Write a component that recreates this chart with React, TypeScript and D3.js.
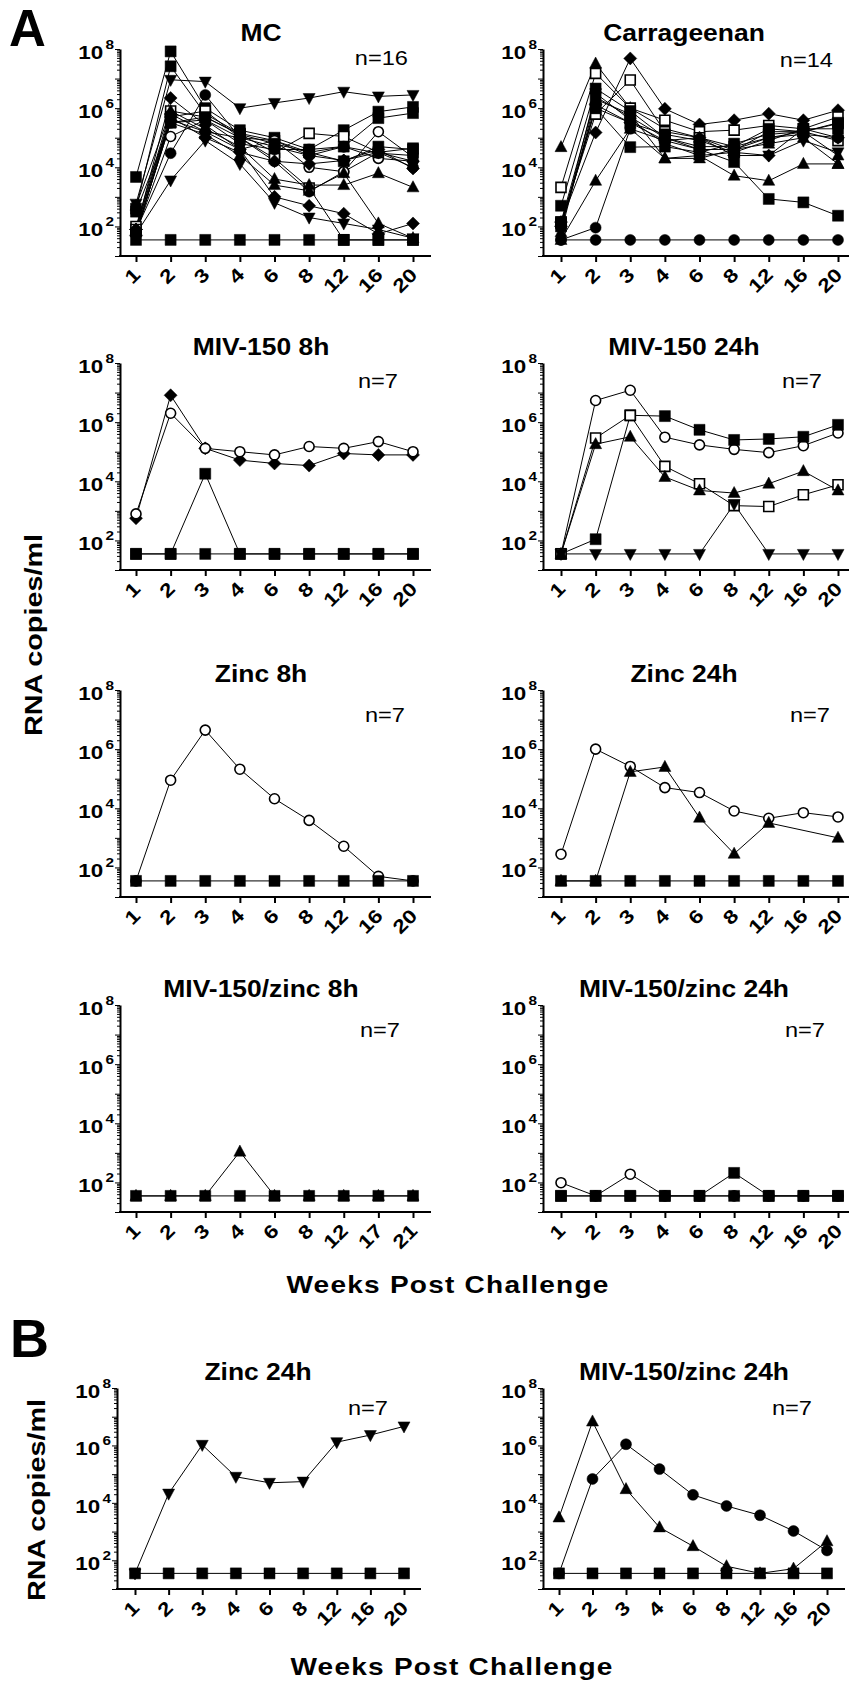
import React, { useRef, useEffect } from "react";
import * as d3 from "d3";

// Limit of detection (values plotted on the baseline)
const LOD = 35;

const weeks = ["1", "2", "3", "4", "6", "8", "12", "16", "20"];
const weeksLate = ["1", "2", "3", "4", "6", "8", "12", "17", "21"];

// MC (n=16)
const mcValues = [
  [590, 9.1e6, 7.9e6, 1e6, 1.5e6, 2.2e6, 3.6e6, 2.5e6, 2.8e6],
  [4700, 8.3e7, 1e6, 1.8e5, 1e5, 4e4, 1.8e5, 7.6e5, 1.1e6],
  [400, 2.6e7, 6.3e5, 1.4e5, 8e4, 3.2e4, 5e4, 4.6e5, 6.8e5],
  [72, 3e4, 2.8e6, 1e5, 1.6e4, 1500, 7100, 3.2e4, 1e4],
  [63, 1.1e5, 4e5, 1e5, 8e4, 1e4, 7100, 1.6e5, 2.2e4],
  [56, 4e5, 1.6e5, 4e4, 8e4, 2.5e4, 5e4, 2e4, 1.6e4],
  [100, 8e5, 5e5, 1.3e5, 3.2e4, 1.4e5, 1.1e5, 3.2e4, 4.4e4],
  [79, 5e5, 8e5, 1e5, 2e4, 2000, 35, 35, 35],
  [79, 2.2e6, 2.7e5, 4e4, 1000, 500, 270, 56, 126],
  [56, 3600, 8e4, 1.3e4, 630, 200, 126, 79, 40],
  [50, 5e5, 1e5, 3.2e4, 1.6e4, 1.3e4, 1.7e4, 4e4, 9100],
  [500, 8e5, 2e5, 5e4, 4000, 2500, 2500, 6300, 2100],
  [63, 3.2e5, 1.3e5, 2.5e4, 2500, 1600, 6300, 126, 40],
  [63, 3.2e5, 4e5, 6.3e4, 4e4, 4e4, 5e4, 3e4, 2.5e4],
  [316, 3.2e5, 5e5, 1.3e5, 6.3e4, 3.2e4, 1.6e4, 5e4, 4e4],
  [79, 6.3e5, 1.6e5, 1e5, 5e4, 2.5e4, 1.7e4, 3.2e4, 1.6e4],
  [LOD, LOD, LOD, LOD, LOD, LOD, LOD, LOD, LOD],
];
const mcMarkers = [
  "triDown", "square", "square", "circle", "openCircle", "openCircle", "openSquare", "openSquare",
  "diamond", "triDown", "diamond", "triangle", "triangle", "circle", "square", "diamond", "square",
];

// Carrageenan (n=14)
const carrValues = [
  [140, 2.4e6, 5e5, 1e5, 4e4, 1.5e4, 850, 650, 230],
  [140, 1.5e5, 4.8e7, 9.5e5, 2.8e5, 3.9e5, 6.5e5, 3.9e5, 8.5e5],
  [4.8e4, 3.2e7, 1e6, 2e5, 1e5, 5e4, 1e5, 1.6e5, 2.5e4],
  [2100, 1.5e7, 1e6, 3.9e5, 1.6e5, 1.8e5, 2.6e5, 2e5, 5e5],
  [140, 6.3e5, 8.9e6, 1.6e5, 1e5, 3.7e4, 1.6e5, 1.6e5, 8e4],
  [LOD, 3500, 2e5, 2e4, 2.5e4, 5200, 3500, 1.3e4, 1.3e4],
  [LOD, 91, 2e5, 8e4, 4e4, 4e4, 1e5, 1.3e5, 1e5],
  [500, 4.6e6, 8e5, 1e5, 5e4, 5e4, 2e5, 1.6e5, 3e5],
  [126, 1e6, 4.8e4, 5e4, 3.2e4, 6.3e4, 1.3e5, 1.6e5, 3.2e5],
  [79, 3.2e6, 4e5, 6.3e4, 2.5e4, 3.2e4, 2.5e4, 8e4, 3.2e4],
  [100, 1e6, 3.2e5, 1.3e5, 8e4, 3.2e4, 8e4, 2e5, 2e5],
  [63, 2e6, 6.3e5, 2e4, 2e4, 4e4, 6.3e4, 1e5, 1.3e4],
  [100, 1.3e6, 3.2e5, 8e4, 1e5, 2.5e4, 2.5e4, 2e5, 1e5],
  [LOD, LOD, LOD, LOD, LOD, LOD, LOD, LOD, LOD],
];
const carrMarkers = [
  "square", "diamond", "triangle", "openSquare", "openSquare", "triangle", "circle",
  "square", "square", "triDown", "square", "triangle", "diamond", "circle",
];

// MIV-150 8h
const miv8Values = [
  [560, 8.1e6, 1.3e5, 5.2e4, 4e4, 3.4e4, 8.7e4, 7.8e4, 7.8e4],
  [790, 2e6, 1.3e5, 1e5, 7.8e4, 1.5e5, 1.3e5, 2.2e5, 1e5],
  [LOD, LOD, 1.8e4, LOD, LOD, LOD, LOD, LOD, LOD],
  [LOD, LOD, LOD, LOD, LOD, LOD, LOD, LOD, LOD],
];
const miv8Markers = ["diamond", "openCircle", "square", "square"];

// MIV-150 24h
const miv24Values = [
  [LOD, 5.4e6, 1.2e7, 3.1e5, 1.7e5, 1.2e5, 9.3e4, 1.6e5, 4.3e5],
  [LOD, 110, 1.7e6, 1.6e6, 5.5e5, 2.5e5, 2.7e5, 3.2e5, 8.1e5],
  [LOD, 2.9e5, 1.7e6, 3.2e4, 8300, 1500, 1400, 3500, 7600],
  [LOD, 1.8e5, 3.2e5, 1.4e4, 4900, 4000, 8300, 2.2e4, 4900],
  [LOD, LOD, LOD, LOD, LOD, 1700, LOD, LOD, LOD],
];
const miv24Markers = ["openCircle", "square", "openSquare", "triangle", "triDown"];

// Zinc 8h
const zinc8Values = [
  [LOD, 8.9e4, 4.4e6, 2.1e5, 2.1e4, 3900, 520, 50, LOD],
  [LOD, LOD, LOD, LOD, LOD, LOD, LOD, LOD, LOD],
];
const zinc8Markers = ["openCircle", "square"];

// Zinc 24h
const zinc24Values = [
  [280, 1e6, 2.6e5, 5e4, 3.4e4, 8100, 4600, 7100, 5100],
  [LOD, LOD, 1.7e5, 2.5e5, 4800, 290, 3200, null, 1000],
  [LOD, LOD, LOD, LOD, LOD, LOD, LOD, LOD, LOD],
];
const zinc24Markers = ["openCircle", "triangle", "square"];

// MIV-150/zinc 8h
const mz8Values = [
  [LOD, LOD, LOD, 1100, LOD, LOD, LOD, LOD, LOD],
  [LOD, LOD, LOD, LOD, LOD, LOD, LOD, LOD, LOD],
];
const mz8Markers = ["triangle", "square"];

// MIV-150/zinc 24h
const mz24Values = [
  [98, LOD, 190, LOD, LOD, LOD, LOD, LOD, LOD],
  [LOD, LOD, LOD, LOD, LOD, 210, LOD, LOD, LOD],
  [LOD, LOD, LOD, LOD, LOD, LOD, LOD, LOD, LOD],
];
const mz24Markers = ["openCircle", "square", "square"];

// B: Zinc 24h
const bZincValues = [
  [LOD, 2.1e4, 1.05e6, 8.1e4, 5e4, 5.5e4, 1.3e6, 2.3e6, 4.6e6],
  [LOD, LOD, LOD, LOD, LOD, LOD, LOD, LOD, LOD],
];
const bZincMarkers = ["triDown", "square"];

// B: MIV-150/zinc 24h
const bMzValues = [
  [3100, 6.8e6, 3e4, 1400, 310, 62, LOD, 51, 460],
  [LOD, 6.8e4, 1.1e6, 1.5e5, 1.9e4, 7800, 3700, 1050, 220],
  [LOD, LOD, LOD, LOD, LOD, LOD, LOD, LOD, LOD],
];
const bMzMarkers = ["triangle", "circle", "square"];

const panels = [
  { title: "MC", n: "n=16", weeks, values: mcValues, markers: mcMarkers },
  { title: "Carrageenan", n: "n=14", weeks, values: carrValues, markers: carrMarkers },
  { title: "MIV-150 8h", n: "n=7", weeks, values: miv8Values, markers: miv8Markers },
  { title: "MIV-150 24h", n: "n=7", weeks, values: miv24Values, markers: miv24Markers },
  { title: "Zinc 8h", n: "n=7", weeks, values: zinc8Values, markers: zinc8Markers },
  { title: "Zinc 24h", n: "n=7", weeks, values: zinc24Values, markers: zinc24Markers },
  { title: "MIV-150/zinc 8h", n: "n=7", weeks: weeksLate, values: mz8Values, markers: mz8Markers },
  { title: "MIV-150/zinc 24h", n: "n=7", weeks, values: mz24Values, markers: mz24Markers },
  { title: "Zinc 24h", n: "n=7", weeks, values: bZincValues, markers: bZincMarkers },
  { title: "MIV-150/zinc 24h", n: "n=7", weeks, values: bMzValues, markers: bMzMarkers },
];

// Panel frames (pixel layout)
const layout = [
  { ax: 120, top: 49, bottom: 256, x0: 136, x1: 413, xEnd: 431, nx: 408, ny: 65 },
  { ax: 543, top: 49, bottom: 256, x0: 561, x1: 838, xEnd: 849, nx: 833, ny: 67 },
  { ax: 120, top: 363, bottom: 570, x0: 136, x1: 413, xEnd: 431, nx: 398, ny: 388 },
  { ax: 543, top: 363, bottom: 570, x0: 561, x1: 838, xEnd: 849, nx: 822, ny: 388 },
  { ax: 120, top: 690, bottom: 897, x0: 136, x1: 413, xEnd: 431, nx: 405, ny: 722 },
  { ax: 543, top: 690, bottom: 897, x0: 561, x1: 838, xEnd: 849, nx: 830, ny: 722 },
  { ax: 120, top: 1005, bottom: 1212, x0: 136, x1: 413, xEnd: 431, nx: 400, ny: 1037 },
  { ax: 543, top: 1005, bottom: 1212, x0: 561, x1: 838, xEnd: 849, nx: 825, ny: 1037 },
  { ax: 117, top: 1388, bottom: 1589, x0: 135, x1: 404, xEnd: 421, nx: 388, ny: 1415 },
  { ax: 543, top: 1388, bottom: 1589, x0: 559, x1: 827, xEnd: 845, nx: 812, ny: 1415 },
];

const FONT = "'Liberation Sans', Arial, Helvetica, sans-serif";

// Símbolos propios (size = semiancho en px)
const sym = {
  square: { draw: (c, r) => c.rect(-r, -r, 2 * r, 2 * r) },
  circle: {
    draw: (c, r) => {
      c.moveTo(r, 0);
      c.arc(0, 0, r, 0, 2 * Math.PI);
    },
  },
  triangle: {
    draw: (c, r) => {
      c.moveTo(0, -r * 1.1);
      c.lineTo(r, r * 0.75);
      c.lineTo(-r, r * 0.75);
      c.closePath();
    },
  },
  triDown: {
    draw: (c, r) => {
      c.moveTo(0, r * 1.1);
      c.lineTo(r, -r * 0.75);
      c.lineTo(-r, -r * 0.75);
      c.closePath();
    },
  },
  diamond: {
    draw: (c, r) => {
      c.moveTo(0, -r);
      c.lineTo(r, 0);
      c.lineTo(0, r);
      c.lineTo(-r, 0);
      c.closePath();
    },
  },
};

const markerDefs = {
  square: { type: sym.square, r: 5.5, open: false },
  openSquare: { type: sym.square, r: 5, open: true },
  circle: { type: sym.circle, r: 5.5, open: false },
  openCircle: { type: sym.circle, r: 5, open: true },
  triangle: { type: sym.triangle, r: 6, open: false },
  triDown: { type: sym.triDown, r: 6, open: false },
  diamond: { type: sym.diamond, r: 6.5, open: false },
};

const isPow10 = (d) => Math.abs(Math.log10(d) - Math.round(Math.log10(d))) < 1e-9;

const addText = (g, o) =>
  g
    .append("text")
    .attr(
      "transform",
      `translate(${o.x},${o.y})${o.rotate ? ` rotate(${o.rotate})` : ""} scale(${o.sx || 1},1)`
    )
    .attr("text-anchor", o.anchor || "start")
    .attr("font-size", o.size)
    .attr("font-weight", o.weight || "normal")
    .attr("letter-spacing", o.spacing || 0)
    .attr("fill", "#000")
    .text(o.text);

const drawPanel = (svg, p, L) => {
  const g = svg.append("g");
  const x = d3.scalePoint().domain(p.weeks).range([L.x0, L.x1]);
  const y = d3.scaleLog().domain([10, 1e8]).range([L.bottom, L.top]);

  // Eje Y con marcas menores logarítmicas
  const tickVals = [];
  for (let e = 1; e < 8; e++) for (let m = 1; m < 10; m++) tickVals.push(m * 10 ** e);
  tickVals.push(1e8);
  const yAxis = g
    .append("g")
    .attr("transform", `translate(${L.ax},0)`)
    .call(d3.axisLeft(y).tickValues(tickVals).tickSize(3).tickSizeOuter(0).tickFormat(() => ""));
  yAxis.select(".domain").attr("stroke", "#000").attr("stroke-width", 2);
  yAxis
    .selectAll(".tick line")
    .attr("stroke", "#000")
    .attr("stroke-width", 1)
    .attr("x2", (d) => (isPow10(d) ? -5 : -3));

  // Rótulos 10^n
  [1e2, 1e4, 1e6, 1e8].forEach((v) => {
    const t = g
      .append("text")
      .attr("transform", `translate(${L.ax - 6},${y(v) + 10}) scale(1.18,1)`)
      .attr("text-anchor", "end")
      .attr("font-weight", "bold")
      .attr("fill", "#000");
    t.append("tspan").attr("font-size", 19).text("10");
    t.append("tspan")
      .attr("font-size", 13)
      .attr("dx", 2)
      .attr("dy", -10)
      .text(String(Math.round(Math.log10(v))));
  });

  // Eje X
  const xAxis = g
    .append("g")
    .attr("transform", `translate(0,${L.bottom})`)
    .attr("font-family", FONT)
    .call(d3.axisBottom(x).tickSize(6).tickSizeOuter(0));
  xAxis.select(".domain").remove();
  xAxis.selectAll(".tick line").attr("stroke", "#000").attr("stroke-width", 2);
  xAxis
    .selectAll(".tick text")
    .attr("x", 0)
    .attr("y", 0)
    .attr("dy", 0)
    .attr("fill", "#000")
    .attr("text-anchor", "end")
    .attr("transform", "translate(5,20) rotate(-45) scale(1.2,1)")
    .style("font-size", "19px")
    .style("font-weight", "bold");
  g.append("line")
    .attr("x1", L.ax - 1)
    .attr("x2", L.xEnd)
    .attr("y1", L.bottom)
    .attr("y2", L.bottom)
    .attr("stroke", "#000")
    .attr("stroke-width", 2);

  // Series
  const line = d3
    .line()
    .x((d) => x(d[0]))
    .y((d) => y(d[1]));
  const series = p.values.map((vals) =>
    p.weeks.map((w, i) => [w, vals[i]]).filter((d) => d[1] != null)
  );
  series.forEach((pts) =>
    g
      .append("path")
      .attr("d", line(pts))
      .attr("fill", "none")
      .attr("stroke", "#000")
      .attr("stroke-width", 1)
  );
  series.forEach((pts, si) => {
    const m = markerDefs[p.markers[si]];
    g.append("g")
      .selectAll("path")
      .data(pts)
      .join("path")
      .attr("transform", (d) => `translate(${x(d[0])},${y(d[1])})`)
      .attr("d", d3.symbol().type(m.type).size(m.r)())
      .attr("fill", m.open ? "#fff" : "#000")
      .attr("stroke", "#000")
      .attr("stroke-width", m.open ? 1.6 : 0.5);
  });

  // Título y n
  addText(g, { x: L.ax + 141, y: L.top - 8, text: p.title, size: 23, weight: "bold", anchor: "middle", sx: 1.15 });
  addText(g, { x: L.nx, y: L.ny, text: p.n, size: 20, anchor: "end", sx: 1.18 });
};

const Figure = ({ width = 849, height = 1682 }) => {
  const ref = useRef(null);

  useEffect(() => {
    const container = ref.current;
    if (!container) return;
    d3.select(container).selectChildren().remove();
    const svg = d3.select(container).append("g").attr("font-family", FONT);

    panels.forEach((p, i) => drawPanel(svg, p, layout[i]));

    // Letras de panel y rótulos comunes
    addText(svg, { x: 9, y: 46, text: "A", size: 51, weight: "bold" });
    addText(svg, { x: 10, y: 1357, text: "B", size: 54, weight: "bold" });
    addText(svg, { x: 42, y: 635, text: "RNA copies/ml", size: 24, weight: "bold", anchor: "middle", rotate: -90, sx: 1.2 });
    addText(svg, { x: 45, y: 1500, text: "RNA copies/ml", size: 24, weight: "bold", anchor: "middle", rotate: -90, sx: 1.2 });
    addText(svg, { x: 448, y: 1293, text: "Weeks Post Challenge", size: 23, weight: "bold", anchor: "middle", sx: 1.22, spacing: 1 });
    addText(svg, { x: 452, y: 1675, text: "Weeks Post Challenge", size: 23, weight: "bold", anchor: "middle", sx: 1.22, spacing: 1 });
  }, [width, height]);

  return (
    <svg
      ref={ref}
      width={width}
      height={height}
      style={{ position: "absolute", left: 0, top: 0, background: "#fff", display: "block" }}
    />
  );
};

export default function App() {
  return <Figure />;
}
